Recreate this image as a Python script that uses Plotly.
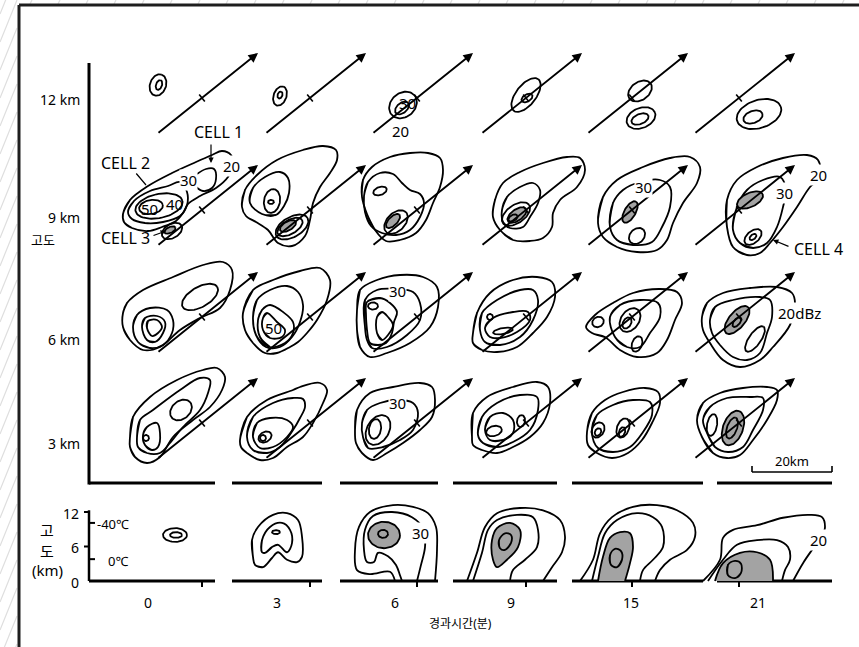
import math
import plotly.graph_objects as go

# ---------------- data ----------------
TIME_LABELS = ["0", "3", "6", "9", "15", "21"]          # elapsed time (min)
LEVEL_LABELS = ["12 km", "9 km", "6 km", "3 km"]       # plan-view levels
HEIGHT_TICKS = [0, 6, 12]                               # km (vertical sections)
ISOTHERM_LABELS = ["-40℃", "0℃"]
ISOTHERM_KM = [10.1, 3.8]
SCALE_BAR_KM = 20
MOTION_TAIL_KM = (-11.25, -9.0)     # storm motion vector, km from storm centre
MOTION_HEAD_KM = (14.0, 11.25)
SECTION_START_KM = [-28.25, -19.5, -19.25, -18.25, -15.0, -5.5]
SECTION_END_KM = [3.25, 3.0, 5.25, 7.75, 17.75, 23.25]

# contour entries: (kind, geometry, shaded)
#   "oval": (cx, cy, semi-major, semi-minor, tilt deg)   km
#   "loop": closed list of (x, y) km     "open": open curve
PLAN_12KM = [
    [("oval", (-11.0, 3.25, 2.75, 2.0, 70), 0), ("oval", (-10.75, 3.25, 1.25, 0.75, 70), 0)],
    [("oval", (-7.5, 0.5, 2.5, 1.6, 70), 0), ("oval", (-7.5, 0.75, 0.9, 0.6, 70), 0)],
    [("oval", (-3.5, -1.75, 3.75, 3.0, 40), 0), ("oval", (-3.75, -2.5, 2.0, 1.25, 40), 0)],
    [("oval", (0.0, 0.75, 5.0, 2.5, 52), 0), ("oval", (0.25, 0.0, 1.5, 0.9, 30), 0)],
    [("oval", (2.0, 1.75, 3.25, 2.25, 35), 0), ("oval", (2.25, -5.0, 3.75, 2.5, 22), 0),
     ("oval", (2.0, -5.25, 2.25, 1.25, 22), 0)],
    [("oval", (5.0, -4.0, 5.75, 3.5, 18), 0), ("oval", (3.5, -4.75, 2.5, 1.5, 20), 0)],
]

PLAN_9KM = [
    [("loop", [(-19.75, -1), (-18, 2.5), (-13.5, 6), (-7.5, 9.25), (-1.5, 12), (2.5, 13.75), (5, 14.75),
               (7.25, 13.75), (7.75, 11.25), (6.5, 8.25), (3.5, 5.5), (-0.5, 3.5), (-3.5, 1.5),
               (-4.75, -0.75), (-6.5, -2.75), (-10, -4.25), (-13.5, -5.25), (-17.5, -4.5), (-19.5, -3)], 0),
     ("loop", [(-18.5, -0.5), (-17, 2.25), (-13, 4.75), (-8.5, 6), (-5.5, 7), (-3.75, 4.5), (-3.75, 1.25),
               (-5.5, -1.5), (-9.75, -3.0), (-14.25, -3.25), (-17.5, -2.25)], 0),
     ("oval", (-10.75, 1.0, 6.0, 3.0, 12), 0),
     ("oval", (-12.75, 0.75, 3.0, 1.75, 10), 0),
     ("open", [(-1.25, 9), (1, 10.25), (3, 10.25), (3.5, 7.75), (2.5, 5.5), (0.25, 4.75), (-1.5, 5.75)], 0),
     ("oval", (-7.5, -5.25, 2.75, 1.75, 30), 0),
     ("oval", (-8.0, -5.0, 1.5, 0.75, 25), 1)],
    [("loop", [(-17, 0.75), (-16.25, 5), (-13.25, 8.75), (-8.25, 12.5), (-1.75, 15), (3.25, 16), (6.5, 15),
               (6.75, 12.5), (5, 9.25), (2.5, 5.75), (0.75, 1.75), (0, -2.5), (-1.25, -6.5), (-4.5, -9),
               (-8, -8.25), (-10.5, -5), (-13.5, -3), (-16, -1.5)], 0),
     ("loop", [(-15, 1.75), (-14.25, 5.5), (-11.25, 8.25), (-7.5, 9.5), (-5.5, 8), (-5.25, 4.25), (-6.5, 1),
               (-8.5, -1.25), (-12, -1)], 0),
     ("oval", (-9.5, 2.25, 3.0, 2.0, 80), 0),
     ("oval", (-9.75, 2.0, 0.75, 0.5, 0), 0),
     ("oval", (-4.5, -4.25, 4.5, 2.5, 30), 0),
     ("oval", (-5.0, -4.25, 3.5, 1.75, 30), 0),
     ("oval", (-5.5, -4.0, 2.25, 1.1, 30), 1)],
    [("loop", [(-13.75, 3.25), (-13.5, 7.5), (-11.25, 10.75), (-6.75, 13.25), (-1.75, 14.25), (2.75, 14.25),
               (5.75, 13), (6.5, 10), (5.75, 5.75), (4, 1.75), (2.25, -2.5), (-0.25, -5.75), (-4.25, -7.5),
               (-7.75, -7.75), (-10.5, -5), (-12.5, -1)], 0),
     ("loop", [(-13.25, 3.5), (-12.25, 7), (-9.25, 9.25), (-6, 9), (-3.75, 6.75), (-1.75, 5), (0.75, 4),
               (1.75, 1.75), (0.75, -1.75), (-1.75, -5), (-5.25, -6.25), (-8.75, -5.75), (-11.5, -4),
               (-13, -0.5)], 0),
     ("oval", (-9.25, 4.75, 1.75, 1.0, 20), 0),
     ("oval", (-5.25, -3.0, 3.5, 2.25, 45), 0),
     ("oval", (-6.0, -2.75, 2.25, 1.1, 45), 1)],
    [("loop", [(-8.25, -1.75), (-7.75, 2.5), (-5.75, 6.75), (-1.5, 9.5), (4.25, 11.75), (10.25, 13.25),
               (13.5, 13), (14.75, 10), (12.75, 5.75), (8.5, 2.5), (6.75, -0.75), (6.5, -4.25), (4.25, -7),
               (1, -7.75), (-3.25, -7.5), (-6.5, -5)], 0),
     ("loop", [(-6, 0), (-4.75, 3.25), (-1.5, 5.75), (1.75, 6.75), (3.5, 5), (3, 1.75), (1, -1.75),
               (-0.75, -4.25), (-4, -4.5), (-5.75, -3)], 0),
     ("oval", (-2.5, -1.0, 4.0, 2.25, 35), 0),
     ("oval", (-2.25, -1.25, 2.75, 1.4, 35), 1),
     ("oval", (-3.25, -2.0, 1.25, 0.75, 30), 0)],
    [("loop", [(-8.5, -3.25), (-7.25, 3.25), (-3.75, 7.5), (2.75, 10.75), (9.5, 13), (14.5, 13.25), (17, 10.75),
               (16.25, 6.75), (12.75, 1.75), (10.25, -3.25), (8.75, -7.5), (6.25, -10), (1.25, -10.5),
               (-3.75, -9.25), (-7.25, -6.75)], 0),
     ("loop", [(-5.5, -4.25), (-4.75, 1.75), (-2.25, 5), (2, 7), (7, 7.5), (9.5, 5.75), (9.5, 0.75),
               (7.5, -4.25), (5, -8), (0.25, -8.75), (-3.75, -7.5)], 0),
     ("oval", (-0.5, -0.5, 3.0, 1.4, 60), 1),
     ("oval", (1.25, -6.5, 2.25, 1.75, 45), 0)],
    [("loop", [(-3, -4.25), (-3, 2.5), (-0.5, 7.5), (4.5, 10.75), (11, 13), (17, 13.75), (19.75, 12.5),
               (20.25, 8), (17.75, 5.75), (14.5, 0.75), (11, -4.25), (7.75, -8.25), (5.25, -10.75),
               (2, -11.25), (-1.5, -9.25)], 0),
     ("loop", [(-1.5, -5), (-0.5, 0.75), (2, 5), (6, 7.5), (10.25, 8.25), (11.75, 5), (11, 0.75), (9.5, -4.25),
               (7, -8.25), (3.5, -9.5), (0.25, -8.25)], 0),
     ("oval", (2.75, 2.5, 3.5, 1.75, 25), 1),
     ("oval", (3.5, -6.75, 2.5, 1.5, 40), 0),
     ("oval", (3.5, -6.75, 1.0, 0.6, 40), 0)],
]

PLAN_6KM = [
    [("loop", [(-19.75, 1), (-18.75, 3.5), (-14.75, 6.75), (-7.25, 10), (0.25, 13), (5.25, 13.75), (7.5, 11.75),
               (7, 6.75), (4.5, 2.25), (-0.5, -0.25), (-5.5, -3.25), (-10.5, -7.5), (-14.75, -8.25),
               (-18, -5.75), (-19.75, -2.5)], 0),
     ("loop", [(-17.25, -2.5), (-16.25, 0.5), (-13, 2.25), (-8.75, 1.75), (-7.25, -0.75), (-7.5, -4),
               (-9.75, -7), (-13, -7.75), (-16, -6.25)], 0),
     ("loop", [(-15, -2.5), (-14.25, -0.25), (-11.25, 0.25), (-9.25, -1.25), (-9.75, -4), (-11.75, -6.25),
               (-13.75, -5.75)], 0),
     ("loop", [(-13.75, -2.75), (-13.5, -1), (-11.25, -0.75), (-10, -2.5), (-11, -4), (-12.5, -4.75)], 0),
     ("oval", (-0.5, 5.0, 5.0, 2.5, 30), 0)],
    [("loop", [(-16.75, 1), (-14.25, 6.75), (-9.25, 9.25), (-2.5, 11.5), (2.5, 12.25), (5, 9.25), (4.25, 4.25),
               (1.75, -0.75), (-0.75, -4), (-3, -6.25), (-5, -7.5), (-8.25, -9), (-11.25, -9), (-14.25, -6.5),
               (-16.25, -3.25)], 0),
     ("loop", [(-14.25, 0), (-13.25, 4.25), (-10, 6.75), (-5.75, 7.75), (-3, 6.25), (-1.75, 3), (-2.5, -1.25),
               (-4.5, -5), (-7.5, -7.5), (-11, -7.5), (-13.5, -4.5)], 0),
     ("loop", [(-13, -0.75), (-12, 1.75), (-10, 3), (-6.75, 1.25), (-4.25, -1.25), (-4.25, -4), (-6.25, -6.5),
               (-10, -7.5), (-12.5, -5)], 0),
     ("loop", [(-11.75, -0.25), (-10.75, 1), (-8.25, -1.25), (-6.25, -3.25), (-7, -5), (-10, -5.25),
               (-11.75, -3.25)], 0)],
    [("loop", [(-15, 1.75), (-14.25, 6.75), (-10, 9.25), (-4.25, 10.5), (1.5, 10), (5, 7.5), (5.25, 2.5),
               (3.25, -2.5), (-1.75, -6.5), (-7.5, -9), (-11.75, -10), (-14.25, -7.5), (-15, -3.25)], 0),
     ("loop", [(-13, -2.5), (-13, 4.25), (-10, 6.75), (-5, 7), (-1, 6.25), (0.75, 3.5), (0.75, -0.75),
               (-2.5, -4.5), (-7.5, -7.5), (-11.25, -7.75), (-12.5, -5.75)], 0),
     ("loop", [(-12.5, 3.75), (-9.25, 4.75), (-6.75, 3.5), (-5, 1.25), (-5.75, -1.25), (-6.25, -4),
               (-7.75, -6.5), (-9.75, -7), (-11.75, -6.5), (-12.5, -3.25), (-12.75, 0.5)], 0),
     ("oval", (-11.0, 2.75, 1.25, 0.9, 0), 0),
     ("loop", [(-10, 0), (-8.75, 1.25), (-7.25, 0), (-6, -2), (-7.25, -4.5), (-8.75, -5.75), (-10, -4)], 0)],
    [("loop", [(-13.25, -4), (-12.25, 1), (-9, 6), (-3.25, 9.25), (2.75, 10), (6.5, 8.75), (7.25, 5),
               (5.25, 0), (1.75, -4), (-2.25, -7.5), (-7.25, -8.75), (-11, -8.25), (-13.25, -6.5)], 0),
     ("loop", [(-11.5, -3.25), (-11, 1), (-7.25, 4.25), (-1.5, 6.75), (1.75, 6.75), (3, 4.25), (1.75, -0.75),
               (-1.5, -5), (-6.5, -7), (-10.25, -6.25)], 0),
     ("loop", [(-10.25, -2.75), (-8.25, -0.25), (-3.25, 1.25), (0.5, 1.25), (1, -0.75), (-2.25, -3.75),
               (-6.5, -5.25), (-9, -5)], 0),
     ("oval", (-5.75, -3.5, 2.5, 0.75, 10), 0),
     ("oval", (-9.0, 0.0, 0.75, 0.75, 0), 0)],
    [("loop", [(-11.5, -2.5), (-9.25, 0.5), (-4.75, 3.5), (0.25, 6), (7, 7), (11.25, 6.25), (12.5, 3.5),
               (10.75, -0.75), (8.75, -5.75), (6.25, -9), (1.25, -10), (-3, -8.25), (-6.75, -5), (-10, -4)], 0),
     ("loop", [(-5.5, 0), (-3, 3), (2, 4.25), (6.5, 3.5), (7, 0), (4.5, -4), (2, -7.5), (-1.25, -7.5),
               (-4.25, -5)], 0),
     ("oval", (-8.5, -1.25, 1.5, 1.25, 30), 0),
     ("oval", (-0.5, -0.75, 3.25, 2.25, 55), 0),
     ("oval", (-1.25, -1.5, 1.5, 1.0, 60), 0),
     ("oval", (1.25, -6.75, 2.0, 1.25, 70), 0)],
    [("loop", [(-9.25, 0), (-8, 3.5), (-4, 6), (2.75, 7.25), (9.5, 7.5), (13.25, 6), (14, 3.5), (12.75, -2),
               (8.5, -7.5), (5.25, -10.75), (0.25, -12.5), (-4, -10.75), (-7.25, -6.5), (-9, -3.25)], 0),
     ("loop", [(-7.25, -0.75), (-6, 2.5), (-1.5, 4.25), (5.25, 5), (7.75, 4.25), (8.25, 0), (7, -4), (5.25, -9),
               (2, -10.75), (-1.5, -10), (-4.75, -7), (-6.75, -4)], 0),
     ("oval", (-0.5, -0.75, 4.25, 2.0, 50), 1),
     ("oval", (-0.5, -1.25, 1.5, 0.75, 50), 0),
     ("oval", (4.0, -5.5, 3.75, 1.5, 55), 0)],
]

PLAN_3KM = [
    [("loop", [(-18, -3.5), (-17.25, 1.5), (-13, 6.5), (-6.25, 10.75), (0.25, 13.25), (3.75, 13.75), (5.75, 11.5),
               (5, 8.25), (2, 4), (-2.25, 0.75), (-7.25, -3.5), (-10.5, -8.5), (-13.75, -10), (-16.75, -8.5),
               (-18, -6)], 0),
     ("loop", [(-16.25, -3.5), (-15.5, 0.75), (-12.25, 3.25), (-5.5, 8.25), (-0.5, 11.25), (2, 10.75), (1.5, 7.5),
               (-0.5, 3.25), (-4.75, -1), (-8, -5), (-10.5, -7.5), (-13.75, -7.5), (-16, -6)], 0),
     ("loop", [(-14.75, -3), (-13.75, -1), (-11.25, 0), (-10.5, -2.5), (-11, -6), (-12.5, -6.75), (-14.25, -5.5)], 0),
     ("oval", (-14.0, -3.75, 0.75, 0.75, 0), 0),
     ("oval", (-5.25, 3.25, 3.0, 2.25, 40), 0)],
    [("loop", [(-17.5, -4.25), (-15.75, 1.5), (-10.75, 5.75), (-4.25, 8.25), (-2.5, 9), (2.5, 10), (4.25, 8.25),
               (3.25, 5), (0.75, 0), (-1.75, -3.5), (-5.75, -6), (-9.25, -8.75), (-12.5, -9.25), (-15.75, -7.5),
               (-17.25, -6)], 0),
     ("loop", [(-15.75, -3.5), (-14.25, 1.5), (-9.25, 5), (-4.25, 6.25), (-1.75, 6), (-1.25, 4), (-2.5, 1.25),
               (-4.25, -1.75), (-7.5, -6), (-10.75, -7.5), (-14.25, -6.75)], 0),
     ("loop", [(-14.25, -3.5), (-13.25, 0), (-10, 1.25), (-5.75, 0.75), (-4.25, -1), (-5.75, -3.5), (-9.25, -6),
               (-12.5, -6.25)], 0),
     ("oval", (-11.25, -3.5, 1.75, 1.25, 30), 0),
     ("oval", (-11.75, -3.75, 0.75, 0.75, 0), 0)],
    [("loop", [(-15.5, -1.75), (-15, 3.25), (-11.75, 7.5), (-6, 9), (0.75, 10), (3.75, 9), (4.5, 5.75),
               (3.75, 1.5), (0.75, -1.75), (-3.5, -5), (-7.5, -7.5), (-11, -9.25), (-13.75, -7.5), (-15.25, -5)], 0),
     ("loop", [(-13.75, 0), (-12.5, 3.25), (-9.25, 5), (-5, 5.75), (-1, 5), (0.25, 2.5), (-1, -1.75),
               (-4.25, -4.25), (-8.5, -6), (-12.25, -6.25), (-13.5, -3.5)], 0),
     ("oval", (-9.75, -1.75, 4.0, 2.75, 60), 0),
     ("oval", (-10.5, -1.5, 2.5, 1.5, 80), 0)],
    [("loop", [(-13.5, -3.5), (-13.25, 2.5), (-9.75, 6.5), (-3.25, 9), (2.75, 10.25), (5.5, 9), (6, 5), (4.25, 0),
               (1, -3.5), (-3.25, -6), (-7.25, -7.5), (-11, -6.75), (-13.25, -5.5)], 0),
     ("loop", [(-12, -3), (-11, 1.5), (-7.25, 5), (-1.5, 7), (2.75, 6.5), (3, 3.25), (1, -1.75), (-3.25, -4.75),
               (-7.25, -6), (-10.75, -5)], 0),
     ("loop", [(-10.25, -1.75), (-9, 1.5), (-5.75, 2.5), (-3.25, 0.75), (-3.25, -2.5), (-5.75, -4.25),
               (-9, -4.25)], 0),
     ("oval", (-8.0, -2.0, 2.0, 1.25, 15), 0),
     ("oval", (-1.25, 0.5, 1.5, 1.0, 80), 0)],
    [("loop", [(-11.25, -2.25), (-10, 2.5), (-6.75, 5.75), (-2.25, 7.75), (3.25, 8.75), (6.5, 7.75), (7, 5), (5, 0),
               (2.5, -4.25), (-1, -7.5), (-5, -8.75), (-8.75, -7.5), (-11, -5.5)], 0),
     ("loop", [(-10, -2.25), (-8.75, 2), (-4.75, 4.5), (0.25, 5.75), (4.5, 5.25), (5, 2), (2.75, -2.25),
               (-0.5, -6), (-4.75, -7.25), (-8.5, -6.25)], 0),
     ("oval", (-2.25, -1.25, 2.5, 1.5, 70), 0),
     ("oval", (-2.5, -2.25, 1.25, 0.75, 70), 0),
     ("oval", (-8.5, -1.75, 2.0, 1.5, 60), 0),
     ("oval", (-8.5, -2.25, 1.0, 0.75, 60), 0)],
    [("loop", [(-10.5, 0.75), (-9, 5), (-4.75, 7.5), (1, 8.75), (7, 9), (9.5, 8.25), (9.5, 5.75), (7, 0.75),
               (3.5, -4.25), (0.25, -8), (-3, -8.75), (-6.5, -7.5), (-9.25, -3.5)], 0),
     ("loop", [(-9, 0.75), (-7.25, 4), (-3, 6.25), (2.75, 6.5), (6, 6.25), (6, 3.25), (3.5, -1.75), (1, -6),
               (-2.75, -7.25), (-6, -6), (-8, -2.5)], 0),
     ("oval", (-6.75, -0.5, 2.75, 1.25, 80), 0),
     ("oval", (-1.5, -1.25, 4.5, 2.5, 70), 1),
     ("oval", (-1.75, -1.25, 2.75, 1.25, 70), 0)],
]
PLANS = [PLAN_12KM, PLAN_9KM, PLAN_6KM, PLAN_3KM]

# vertical sections: x km from storm centre, z km height
SECTIONS = [
    [("oval", (-6.75, 8.0, 3.0, 1.2, 0), 0), ("oval", (-6.5, 8.0, 1.5, 0.5, 0), 0)],
    [("loop", [(-14.25, 4.2), (-14.5, 7.1), (-13, 9.4), (-9.25, 11.5), (-5.75, 11.8), (-3, 10.6), (-2, 7.7),
               (-2, 4.2), (-3.25, 3.3), (-5.75, 3.7), (-8, 5.0), (-9.5, 4.0), (-11.75, 2.4), (-13.75, 2.8)], 0),
     ("loop", [(-12, 5.0), (-12, 7.1), (-10, 9.4), (-7, 10.1), (-5, 8.9), (-4.5, 6.6), (-5.75, 5.0), (-8, 6.3),
               (-9.5, 5.9), (-11.25, 4.9)], 0),
     ("oval", (-8.5, 8.5, 1.0, 0.35, 0), 0)],
    [("open", [(-5.5, 0), (-6.75, 1.6), (-11.75, 1.2), (-15, 1.9), (-15.5, 5.4), (-14.5, 9.4), (-11.75, 12),
               (-6, 13.2), (-1, 12.9), (2.75, 11.8), (4.75, 9.4), (5, 5.4), (4.5, 0)], 0),
     ("open", [(0, 0), (1, 2.8), (2, 5.9), (1.75, 8.9), (-1.25, 11.1), (-6.25, 12), (-11, 11.3), (-13, 8.9),
               (-13.25, 5.4), (-12.5, 3.3), (-10.75, 3.3), (-9.75, 4.9), (-7.25, 4.3), (-5.25, 2.8), (-4.25, 1.0),
               (-3.75, 0)], 0),
     ("oval", (-8.25, 8.0, 4.0, 2.3, 0), 1),
     ("oval", (-8.5, 8.2, 1.25, 0.7, 0), 0)],
    [("open", [(-14.75, 0), (-12.25, 4.9), (-10.25, 9.4), (-7.25, 11.8), (-1.5, 12.7), (4.25, 12.3), (8.5, 10.6),
               (9.75, 7.7), (9, 5.0), (6.5, 2.4), (4.25, 0)], 0),
     ("open", [(-13.25, 0), (-11, 4.9), (-9.5, 8.9), (-7.25, 10.6), (-2.25, 11.5), (1.75, 11.1), (3, 8.9),
               (2.75, 5.9), (-0.25, 3.7), (-3.25, 1.9), (-4, 0)], 0),
     ("loop", [(-8.25, 3.7), (-8.5, 7.1), (-7.25, 9.2), (-4, 10.1), (-1.5, 8.9), (-2, 5.9), (-4.75, 3.7),
               (-7.25, 2.4)], 1),
     ("loop", [(-6.5, 5.7), (-6.75, 7.1), (-5.25, 8.3), (-3.75, 8.0), (-3.75, 6.6), (-5.25, 5.4)], 0)],
    [("open", [(-13, 0), (-9.75, 3.7), (-8, 8.3), (-5, 11.1), (0.25, 12.9), (6.25, 13.2), (11.25, 12.3),
               (15.25, 10.1), (15.75, 7.7), (13.75, 5.4), (9.5, 3.7), (7, 1.9), (5.75, 0)], 0),
     ("open", [(-10, 0), (-8.5, 4.2), (-6.75, 8.3), (-3.75, 10.6), (1.25, 11.8), (5.25, 11.1), (7.5, 9.4),
               (7.75, 5.9), (5.25, 3.7), (2.75, 1.9), (2, 0)], 0),
     ("open", [(-8.5, 0), (-7.25, 4.2), (-5.5, 7.5), (-3, 8.5), (-0.5, 8.3), (0.25, 5.9), (-0.5, 3.1),
               (-1.75, 0)], 1),
     ("loop", [(-5.25, 2.8), (-5.5, 4.5), (-4.25, 5.6), (-2.75, 5.2), (-2.5, 3.7), (-3.75, 2.4)], 0)],
    [("open", [(-9, 0), (-4.75, 3.7), (-4, 7.5), (-1.5, 8.9), (4.5, 9.7), (11, 11), (17.75, 11.5), (20.75, 11.1),
               (21.5, 9.4), (20.75, 7.8), (18.25, 5.4), (16, 3.1), (13.5, 0)], 0),
     ("open", [(-7.75, 0), (-4, 3.7), (-0.5, 6.3), (4.5, 7.1), (9.5, 7.1), (12.25, 5.9), (12.75, 3.7),
               (11.5, 1.9), (10.75, 0)], 0),
     ("open", [(-6, 0), (-4, 3.1), (0.25, 4.9), (4.5, 5.0), (7.75, 3.7), (8.5, 0)], 1),
     ("loop", [(-2.75, 1.0), (-2.75, 2.8), (-1, 3.5), (0.5, 3.0), (0.5, 1.4), (-1, 0.5)], 0)],
]

# contour value labels: (level row, time col, x km, y km, text, break line)
PLAN_TEXT = [
    (0, 2, -2.5, -1.25, "30", False), (0, 2, -4.25, -8.25, "20", False),
    (1, 0, 7.25, 11.0, "20", True), (1, 0, -3.5, 7.5, "30", True),
    (1, 0, -13.25, 0.25, "50", False), (1, 0, -7.0, 1.5, "40", False),
    (1, 4, 2.75, 5.75, "30", True), (1, 5, 19.75, 8.75, "20", True), (1, 5, 11.25, 4.25, "30", True),
    (2, 1, -9.25, -2.75, "50", False), (2, 2, -5.0, 6.5, "30", True), (2, 5, 15.0, 1.0, "20dBz", True),
    (3, 2, -5.0, 5.0, "30", True),
]
SECTION_TEXT = [(2, 0.75, 8.3, "30"), (5, 19.75, 7.1, "20")]
# cell pointers: (row, col, text, text x, text y, from, to, arrowhead)
CELL_NOTES = [
    (1, 0, "CELL 1", 4.0, 19.5, (2.25, 16.75), (2.25, 11.75), True),
    (1, 0, "CELL 2", -19.25, 11.75, (-16.75, 9.5), (-14.0, 6.25), False),
    (1, 0, "CELL 3", -19.25, -7.0, (-12.5, -6.5), (-9.0, -5.25), True),
    (1, 5, "CELL 4", 19.75, -9.75, (12.75, -9.25), (8.5, -7.5), True),
]

# ---------------- layout constants ----------------
W, H = 859, 647
COL_X = [202, 310, 417, 526, 632, 739]
ROW_Y = [98, 210, 317, 423]
LEVEL_LABEL_Y = [99, 217, 339, 443]
TIME_LABEL_X = [148, 277, 395, 511, 631, 758]
PX_KM = 4.0
AXIS_X = 89
PLAN_TOP, PLAN_BOTTOM = 63, 483
BASE_Y = 581
PX_KM_Z = 5.75
SHADE = "#a3a3a3"
LW = 1.8
FONT = "Noto Sans, Noto Sans CJK KR, sans-serif"

fig = go.Figure()


def oval_pts(cx, cy, a, b, ang, n=72):
    th = math.radians(ang)
    xs, ys = [], []
    for i in range(n + 1):
        t = 2 * math.pi * i / n
        ex, ey = a * math.cos(t), b * math.sin(t)
        xs.append(cx + ex * math.cos(th) - ey * math.sin(th))
        ys.append(cy + ex * math.sin(th) + ey * math.cos(th))
    return xs, ys


def draw_entry(entry, x0, y0, sx, sy):
    kind, geom, shaded = entry
    if kind == "oval":
        xs, ys = oval_pts(*geom)
        shape = "linear"
    else:
        pts = list(geom)
        if kind == "loop":
            seq = pts + [pts[0]] if shaded else [pts[-2], pts[-1]] + pts + [pts[0], pts[1]]
        else:
            seq = pts
        xs = [p[0] for p in seq]
        ys = [p[1] for p in seq]
        shape = "spline"
    px = [x0 + sx * x for x in xs]
    py = [y0 - sy * y for y in ys]
    fig.add_trace(go.Scatter(
        x=px, y=py, mode="lines",
        line=dict(color="black", width=LW, shape=shape, smoothing=1.0),
        fill="toself" if shaded else "none", fillcolor=SHADE if shaded else None,
        hoverinfo="skip", showlegend=False))


def seg(x0, y0, x1, y1, w=LW, color="black"):
    fig.add_trace(go.Scatter(x=[x0, x1], y=[y0, y1], mode="lines",
                             line=dict(color=color, width=w), hoverinfo="skip", showlegend=False))


def text(x, y, s, size=14, xanchor="center", bg=None):
    fig.add_annotation(x=x, y=y, xref="x", yref="y", text=s, showarrow=False, xanchor=xanchor,
                       yanchor="middle", font=dict(family=FONT, size=size, color="black"),
                       bgcolor=bg, borderpad=0)


# frame and hatched margin
for k in range(-2, 26):
    y = 28 * k
    fig.add_shape(type="line", x0=0, y0=y + 42, x1=17, y1=y, xref="x", yref="y",
                  line=dict(color="#dedede", width=1.2))
for k in range(0, 32):
    x = 30 + 28 * k
    fig.add_shape(type="line", x0=x, y0=4, x1=x + 2, y1=0, xref="x", yref="y",
                  line=dict(color="#dedede", width=1.2))
fig.add_shape(type="line", x0=19, y0=5, x1=19, y1=H + 5, line=dict(color="#1e1e1e", width=3))
fig.add_shape(type="line", x0=19, y0=5, x1=W + 5, y1=5, line=dict(color="#1e1e1e", width=3))

# plan-view axes
seg(AXIS_X, PLAN_TOP, AXIS_X, PLAN_BOTTOM + 1.5, w=3)
for c in range(len(TIME_LABELS)):
    seg(COL_X[c] + PX_KM * SECTION_START_KM[c], PLAN_BOTTOM, COL_X[c] + PX_KM * SECTION_END_KM[c], PLAN_BOTTOM, w=3)
for r, lab in enumerate(LEVEL_LABELS):
    text(81, LEVEL_LABEL_Y[r], lab, size=14, xanchor="right")
text(43, 240, "고도", size=13)

# plan-view panels
for r, plan in enumerate(PLANS):
    for c, panel in enumerate(plan):
        x0, y0 = COL_X[c], ROW_Y[r]
        for entry in panel:
            draw_entry(entry, x0, y0, PX_KM, PX_KM)
        # storm motion arrow with centre tick
        hx, hy = x0 + PX_KM * MOTION_HEAD_KM[0], y0 - PX_KM * MOTION_HEAD_KM[1]
        tx, ty = x0 + PX_KM * MOTION_TAIL_KM[0], y0 - PX_KM * MOTION_TAIL_KM[1]
        fig.add_annotation(x=hx, y=hy, ax=tx, ay=ty, xref="x", yref="y", axref="x", ayref="y",
                           text="", showarrow=True, arrowhead=2, arrowsize=1.0, arrowwidth=1.9,
                           arrowcolor="black", standoff=0)
        dx, dy = hx - tx, hy - ty
        L = math.hypot(dx, dy)
        nx, ny = -dy / L, dx / L
        seg(x0 - 4.5 * nx, y0 - 4.5 * ny, x0 + 4.5 * nx, y0 + 4.5 * ny, w=1.6)

for r, c, x, y, s, brk in PLAN_TEXT:
    text(COL_X[c] + PX_KM * x, ROW_Y[r] - PX_KM * y, s, size=15, bg="white" if brk else None)

for r, c, s, x, y, p0, p1, head in CELL_NOTES:
    x0, y0 = COL_X[c], ROW_Y[r]
    text(x0 + PX_KM * x, y0 - PX_KM * y, s, size=16)
    fig.add_annotation(x=x0 + PX_KM * p1[0], y=y0 - PX_KM * p1[1], ax=x0 + PX_KM * p0[0], ay=y0 - PX_KM * p0[1],
                       xref="x", yref="y", axref="x", ayref="y", text="", showarrow=True,
                       arrowhead=2 if head else 0, arrowsize=0.9, arrowwidth=1.2, arrowcolor="black", standoff=0)

# scale bar
sb_r = COL_X[-1] + 93
sb_l = sb_r - PX_KM * SCALE_BAR_KM
seg(sb_l, 472, sb_r, 472, w=1.6)
seg(sb_l, 466, sb_l, 472, w=1.6)
seg(sb_r, 466, sb_r, 472, w=1.6)
text((sb_l + sb_r) / 2, 461, f"{SCALE_BAR_KM}km", size=13)

# vertical sections
seg(AXIS_X, BASE_Y - PX_KM_Z * 12.3, AXIS_X, BASE_Y, w=2.5)
for z in HEIGHT_TICKS:
    yy = BASE_Y - PX_KM_Z * z
    if z > 0:
        seg(AXIS_X - 5, yy, AXIS_X, yy, w=2)
    text(80, yy + 1, str(z), size=14, xanchor="right")
for lab, z in zip(ISOTHERM_LABELS, ISOTHERM_KM):
    yy = BASE_Y - PX_KM_Z * z
    seg(AXIS_X, yy, AXIS_X + 6, yy, w=2)
    text(AXIS_X + (7 if lab.startswith("-") else 18), yy + 1.5, lab, size=13, xanchor="left")
text(47, 530, "고", size=15)
text(47, 551, "도", size=15)
text(47, 570, "(km)", size=15)

for c, sec in enumerate(SECTIONS):
    x0 = COL_X[c]
    seg(x0 + PX_KM * SECTION_START_KM[c], BASE_Y, x0 + PX_KM * SECTION_END_KM[c], BASE_Y, w=3)
    seg(x0, BASE_Y, x0, BASE_Y + 6, w=2)
    for entry in sec:
        draw_entry(entry, x0, BASE_Y, PX_KM, PX_KM_Z)
for c, s in enumerate(TIME_LABELS):
    text(TIME_LABEL_X[c], 602, s, size=14)
for c, x, z, s in SECTION_TEXT:
    text(COL_X[c] + PX_KM * x, BASE_Y - PX_KM_Z * z, s, size=15, bg="white")
text(460, 623, "경과시간(분)", size=12)

fig.update_layout(
    width=W, height=H, margin=dict(l=0, r=0, t=0, b=0),
    paper_bgcolor="white", plot_bgcolor="white", showlegend=False,
    xaxis=dict(range=[0, W], visible=False, fixedrange=True),
    yaxis=dict(range=[H, 0], visible=False, fixedrange=True),
)
fig.write_html("out.html", config={"displayModeBar": False},
               post_script="document.body.style.margin='0';document.body.style.padding='0';"
                           "document.body.style.overflow='hidden';")
